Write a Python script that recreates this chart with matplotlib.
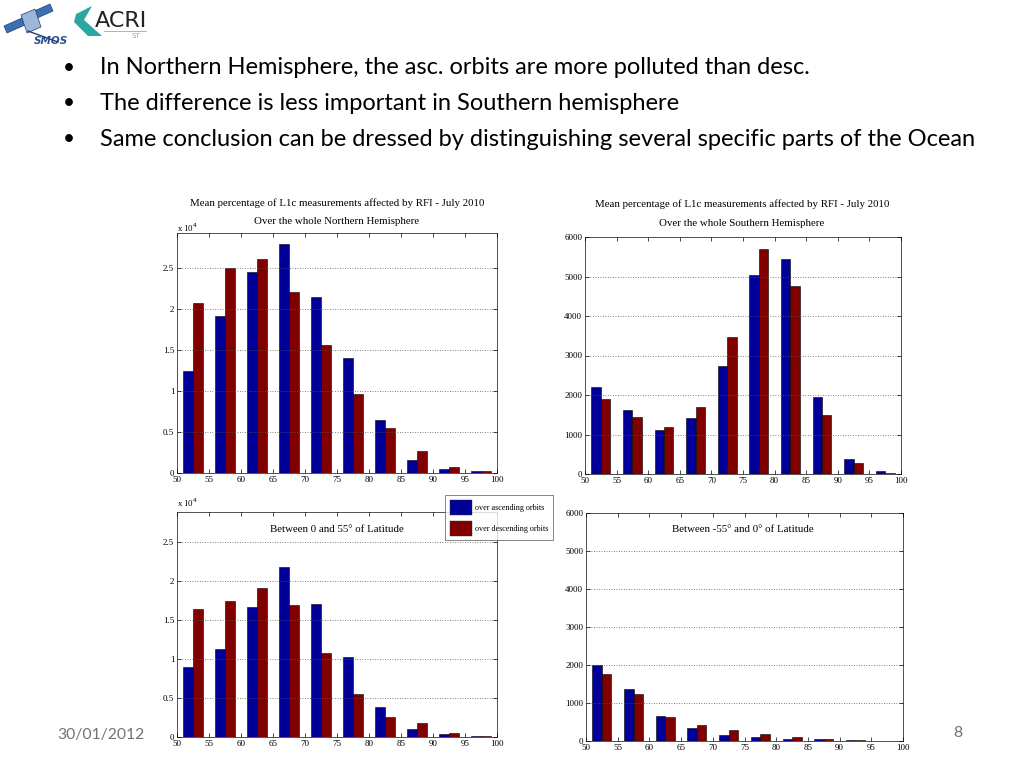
import matplotlib
matplotlib.use("Agg")
import matplotlib.pyplot as plt
from matplotlib.patches import Rectangle, Polygon
import numpy as np

# ---------------- data ----------------
bins = [52.5, 57.5, 62.5, 67.5, 72.5, 77.5, 82.5, 87.5, 92.5, 97.5]
xticks = [50, 55, 60, 65, 70, 75, 80, 85, 90, 95, 100]

# Northern hemisphere (x 1e4)
nh_asc = [1.25, 1.92, 2.45, 2.80, 2.145, 1.41, 0.644, 0.163, 0.049, 0.02]
nh_desc = [2.08, 2.50, 2.61, 2.215, 1.558, 0.967, 0.547, 0.273, 0.069, 0.02]
# Southern hemisphere
sh_asc = [2190, 1616, 1111, 1423, 2727, 5034, 5438, 1961, 387, 67]
sh_desc = [1902, 1448, 1178, 1700, 3476, 5690, 4756, 1498, 269, 34]
# Between 0 and 55 deg (x 1e4)
n55_asc = [0.896, 1.131, 1.672, 2.180, 1.702, 1.028, 0.384, 0.102, 0.034, 0.013]
n55_desc = [1.642, 1.745, 1.916, 1.698, 1.075, 0.555, 0.252, 0.183, 0.055, 0.013]
# Between -55 and 0 deg
s55_asc = [2009, 1368, 649, 333, 158, 96, 61, 44, 18, 10]
s55_desc = [1772, 1228, 623, 412, 298, 184, 96, 61, 35, 12]

bullets = [
    "In Northern Hemisphere, the asc. orbits are more polluted than desc.",
    "The difference is less important in Southern hemisphere",
    "Same conclusion can be dressed by distinguishing several specific parts of the Ocean",
]
title_main = "Mean percentage of L1c measurements affected by RFI - July 2010"
legend_labels = ["over ascending orbits", "over descending orbits"]

BLUE = (0.0, 0.0, 0.60)
RED = (0.50, 0.0, 0.0)
SERIF = ["Liberation Serif", "DejaVu Serif"]

W, H = 1024, 768
fig = plt.figure(figsize=(W / 100, H / 100), dpi=100)
fig.patch.set_facecolor("white")


def rect(x0, y0, x1, y1):
    return [x0 / W, 1 - y1 / H, (x1 - x0) / W, (y1 - y0) / H]


def panel(r, asc, desc, ymax, yticks, yticklabels):
    ax = fig.add_axes(r)
    xb = np.array(bins)
    ax.bar(xb - 0.75, asc, width=1.5, color=BLUE, edgecolor="black", linewidth=0.4)
    ax.bar(xb + 0.75, desc, width=1.5, color=RED, edgecolor="black", linewidth=0.4)
    ax.set_xlim(50, 100)
    ax.set_ylim(0, ymax)
    ax.set_xticks(xticks)
    ax.set_xticklabels([str(t) for t in xticks], fontfamily=SERIF, fontsize=6.5)
    ax.set_yticks(yticks)
    ax.set_yticklabels(yticklabels, fontfamily=SERIF, fontsize=6.5)
    ax.tick_params(direction="in", top=True, right=True, length=3, width=0.5, pad=2)
    ax.yaxis.grid(True, linestyle=(0, (1, 2)), color="0.35", linewidth=0.6)
    ax.set_axisbelow(False)
    for s in ax.spines.values():
        s.set_linewidth(0.6)
        s.set_color("0.2")
    return ax


yt4 = [0, 0.5, 1, 1.5, 2, 2.5]
yl4 = ["0", "0.5", "1", "1.5", "2", "2.5"]
yt6 = [0, 1000, 2000, 3000, 4000, 5000, 6000]
yl6 = [str(v) for v in yt6]

ax1 = panel(rect(177, 233, 497, 473), nh_asc, nh_desc, 2.93, yt4, yl4)
ax2 = panel(rect(585, 237, 901, 474), sh_asc, sh_desc, 6000, yt6, yl6)
ax3 = panel(rect(177, 512, 497, 737), n55_asc, n55_desc, 2.89, yt4, yl4)
ax4 = panel(rect(586, 513, 903, 741), s55_asc, s55_desc, 6000, yt6, yl6)

# titles
TS = 7.8
fig.text(337 / W, 1 - 203 / H, title_main, ha="center", va="center",
         fontfamily=SERIF, fontsize=TS)
fig.text(337 / W, 1 - 222 / H, "Over the whole Northern Hemisphere", ha="center",
         va="center", fontfamily=SERIF, fontsize=TS)
fig.text(742 / W, 1 - 204 / H, title_main, ha="center", va="center",
         fontfamily=SERIF, fontsize=TS)
fig.text(742 / W, 1 - 223 / H, "Over the whole Southern Hemisphere", ha="center",
         va="center", fontfamily=SERIF, fontsize=TS)
fig.text(337 / W, 1 - 529 / H, "Between 0 and 55° of Latitude", ha="center",
         va="center", fontfamily=SERIF, fontsize=TS)
fig.text(743 / W, 1 - 529 / H, "Between -55° and 0° of Latitude", ha="center",
         va="center", fontfamily=SERIF, fontsize=TS)

# exponent labels
for y in (228, 503):
    fig.text(177 / W, 1 - y / H, r"x 10$^{4}$", ha="left", va="center",
             fontfamily=SERIF, fontsize=6.3)

# legend
leg_handles = [Rectangle((0, 0), 1, 1, facecolor=BLUE, edgecolor="0.2", lw=0.3),
               Rectangle((0, 0), 1, 1, facecolor=RED, edgecolor="0.2", lw=0.3)]
leg = fig.legend(leg_handles, legend_labels, loc="upper left",
                 bbox_to_anchor=(445 / W, 1 - 495 / H),
                 prop={"family": SERIF, "size": 5.9}, frameon=True, fancybox=False,
                 edgecolor="0.3", handlelength=2.8, handleheight=2.5,
                 handletextpad=0.3, borderpad=0.55, labelspacing=0.7,
                 borderaxespad=0)
leg.get_frame().set_linewidth(0.6)

# bullets
SANS = ["Lato", "DejaVu Sans"]
for i, t in enumerate(bullets):
    y = 1 - (68 + i * 35.5) / H
    fig.text(63 / W, y, "•", ha="left", va="center", fontfamily=SANS, fontsize=15,
             color="black")
    fig.text(100 / W, y, t, ha="left", va="center", fontfamily=SANS, fontsize=17,
             color="black")

# footer
fig.text(57 / W, 1 - 735 / H, "30/01/2012", ha="left", va="center",
         fontfamily=SANS, fontsize=11.3, color="0.45")
fig.text(958 / W, 1 - 733 / H, "8", ha="center", va="center",
         fontfamily=SANS, fontsize=11.3, color="0.45")

# logos (approximation)
lax = fig.add_axes([0, 1 - 50 / H, 200 / W, 50 / H])
lax.set_xlim(0, 200)
lax.set_ylim(50, 0)
lax.axis("off")
# SMOS satellite
lax.add_patch(Polygon([[4, 26], [22, 18], [25, 25], [7, 33]], closed=True,
                      facecolor="#3a6fb0", edgecolor="#1f3f70", lw=0.5))
lax.add_patch(Polygon([[32, 12], [50, 4], [53, 11], [35, 19]], closed=True,
                      facecolor="#3a6fb0", edgecolor="#1f3f70", lw=0.5))
lax.add_patch(Polygon([[21, 15], [35, 9], [41, 27], [27, 33]], closed=True,
                      facecolor="#9bb8d8", edgecolor="#1f3f70", lw=0.5))
lax.plot([28, 58], [31, 42], color="#1f3f70", lw=1)
lax.text(34, 41, "SMOS", fontsize=7.5, fontstyle="italic", fontweight="bold",
         color="#2a4f8f", ha="left", va="center", family=["DejaVu Sans"])
# ACRI-ST
lax.add_patch(Polygon([[76, 14], [92, 6], [84, 20], [102, 36], [88, 36], [74, 22]],
                      closed=True, facecolor="#2aa7a0", edgecolor="none"))
lax.text(95, 21, "ACRI", fontsize=16, color="#222222",
         ha="left", va="center", family=["DejaVu Sans"])
lax.plot([104, 146], [31, 31], color="#8cc63f", lw=0.6)
lax.text(131, 36, "ST", fontsize=5, color="#8cc63f", ha="left", va="center",
         family=["DejaVu Sans"])

fig.savefig("out.png", dpi=100, facecolor="white")
